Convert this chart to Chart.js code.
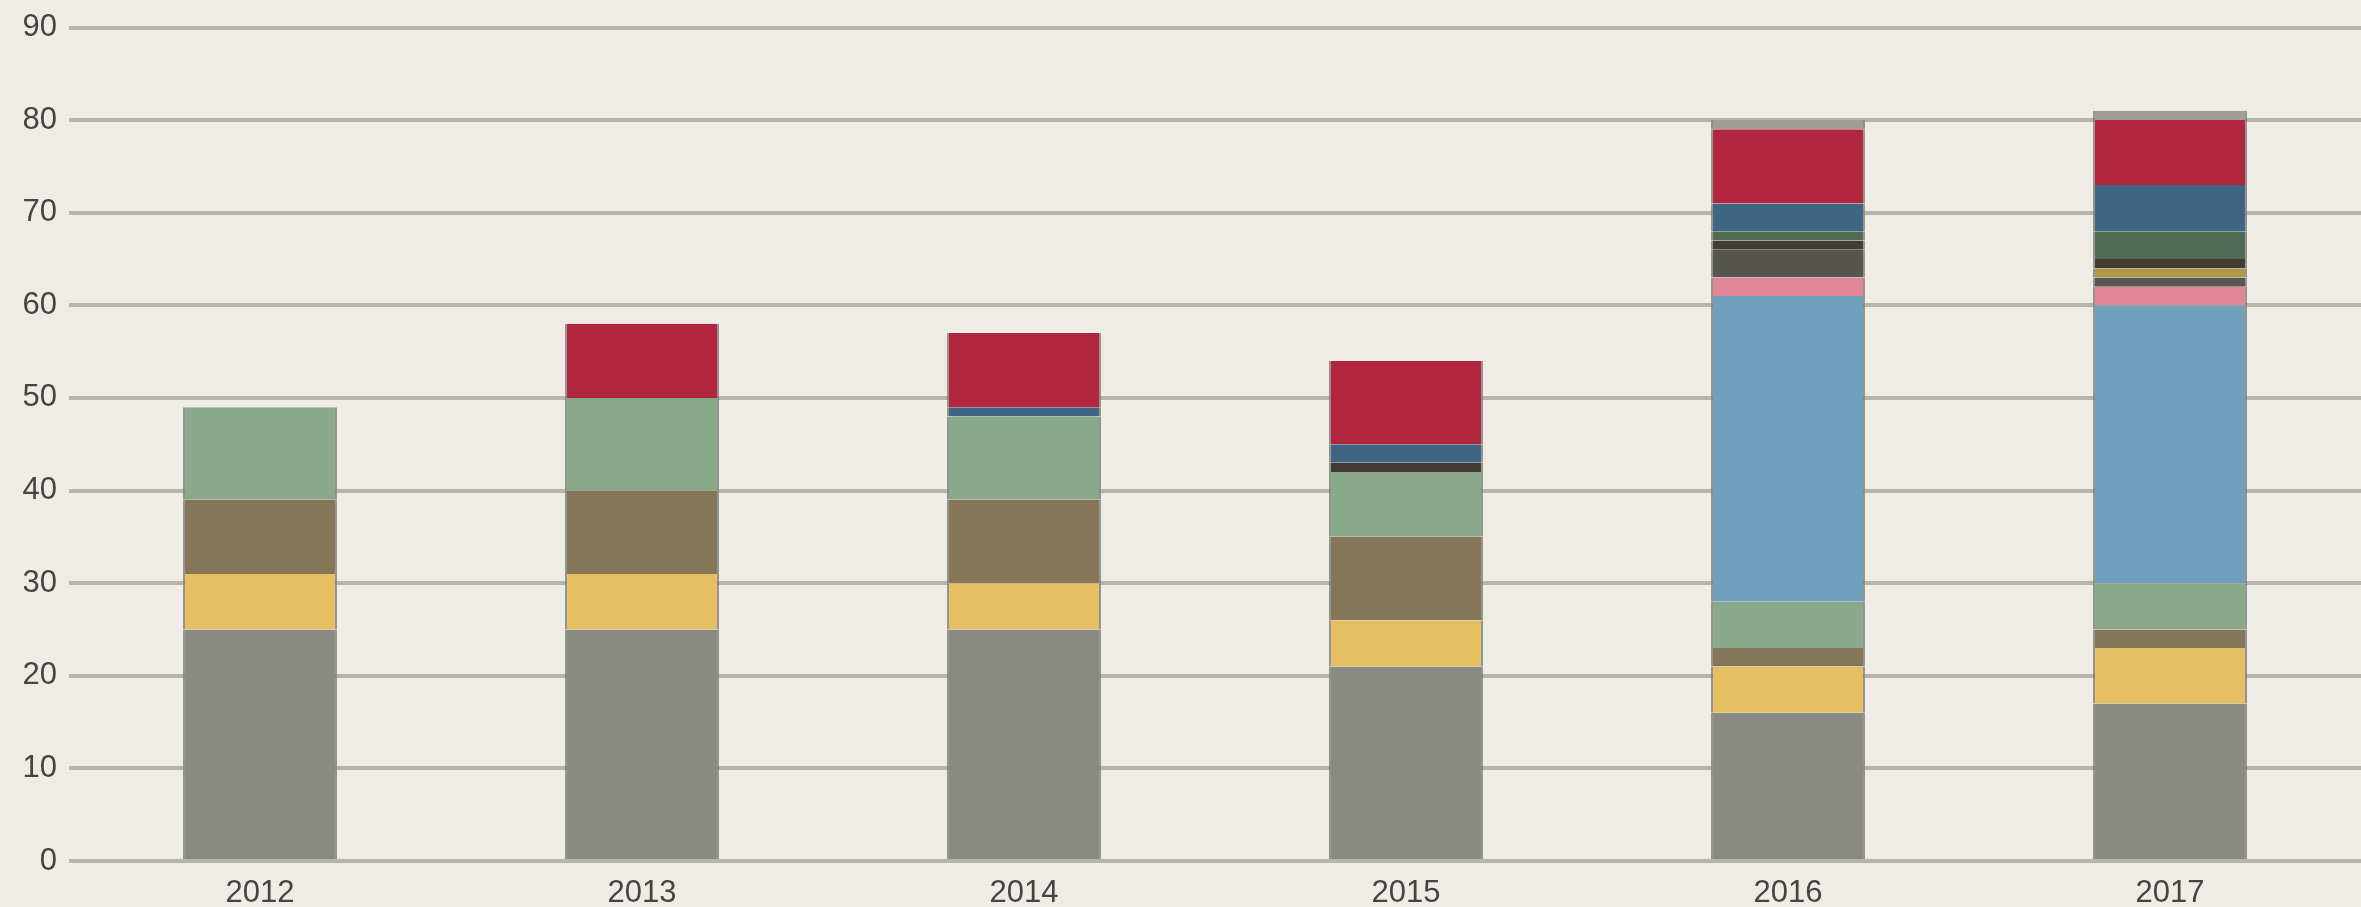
<!DOCTYPE html>
<html lang="en">
<head>
    <meta charset="UTF-8">
    <title>Stacked bars 2012-2017</title>
    <script src="https://cdn.jsdelivr.net/npm/chart.js"></script>
    <style>
        html, body {
            margin: 0;
            padding: 0;
            background-color: #eeece5;
        }
        #wrap {
            width: 2361px;
            height: 907px;
        }
    </style>
</head>
<body>
    <div id="wrap"><canvas id="barChart"></canvas></div>

    <script>
        const years = ['2012', '2013', '2014', '2015', '2016', '2017'];

        // series values, bottom of the stack first
        const grey      = [25, 25, 25, 21, 16, 17];
        const yellow    = [6, 6, 5, 5, 5, 6];
        const brown     = [8, 9, 9, 9, 2, 2];
        const sage      = [10, 10, 9, 7, 5, 5];
        const lightBlue = [0, 0, 0, 0, 33, 30];
        const pink      = [0, 0, 0, 0, 2, 2];
        const darkGrey  = [0, 0, 0, 0, 3, 1];
        const gold      = [0, 0, 0, 0, 0, 1];
        const darkBrown = [0, 0, 0, 1, 1, 1];
        const darkGreen = [0, 0, 0, 0, 1, 3];
        const darkBlue  = [0, 0, 1, 2, 3, 5];
        const red       = [0, 8, 8, 9, 8, 7];
        const paleGrey  = [0, 0, 0, 0, 1, 1];

        const yTicks = [0, 10, 20, 30, 40, 50, 60, 70, 80, 90];

        const series = [
            ['Grey', grey, '#8a8a84'],
            ['Yellow', yellow, '#e6bf62'],
            ['Brown', brown, '#857559'],
            ['Sage', sage, '#89a98a'],
            ['Light blue', lightBlue, '#71a0bc'],
            ['Pink', pink, '#e28696'],
            ['Dark grey', darkGrey, '#56554f'],
            ['Gold', gold, '#b3964c'],
            ['Dark brown', darkBrown, '#433b31'],
            ['Dark green', darkGreen, '#4f6b55'],
            ['Dark blue', darkBlue, '#3e6581'],
            ['Red', red, '#b2253f'],
            ['Pale grey', paleGrey, '#a09e98']
        ];

        const datasets = series.map(([label, data, color]) => ({
            label: label,
            data: data,
            backgroundColor: color,
            borderColor: 'rgba(125, 125, 120, 0.8)',
            borderWidth: { top: 0, bottom: 0, left: 2, right: 2 },
            borderSkipped: false,
            categoryPercentage: 1,
            barPercentage: 0.403
        }));

        const fontFamily = "'Liberation Sans', Arial, sans-serif";

        const ctx = document.getElementById('barChart').getContext('2d');
        new Chart(ctx, {
            type: 'bar',
            data: { labels: years, datasets: datasets },
            options: {
                responsive: true,
                maintainAspectRatio: false,
                animation: false,
                layout: { padding: { top: 25, right: 0, bottom: 0, left: 0 } },
                plugins: {
                    legend: { display: false },
                    tooltip: { enabled: false }
                },
                scales: {
                    x: {
                        stacked: true,
                        grid: { display: false },
                        border: { display: false },
                        ticks: { color: '#444444', font: { family: fontFamily, size: 31 }, padding: 6 },
                        afterFit: scale => { scale.height = 46; }
                    },
                    y: {
                        stacked: true,
                        min: 0,
                        max: 90,
                        afterBuildTicks: scale => {
                            scale.ticks = yTicks.map(v => ({ value: v }));
                        },
                        grid: { color: '#b7b4ab', lineWidth: 4, drawTicks: false },
                        border: { display: false },
                        ticks: {
                            color: '#444444',
                            font: { family: fontFamily, size: 31, lineHeight: 1 },
                            padding: 12
                        },
                        afterFit: scale => { scale.width = 69; }
                    }
                }
            }
        });
    </script>
</body>
</html>
